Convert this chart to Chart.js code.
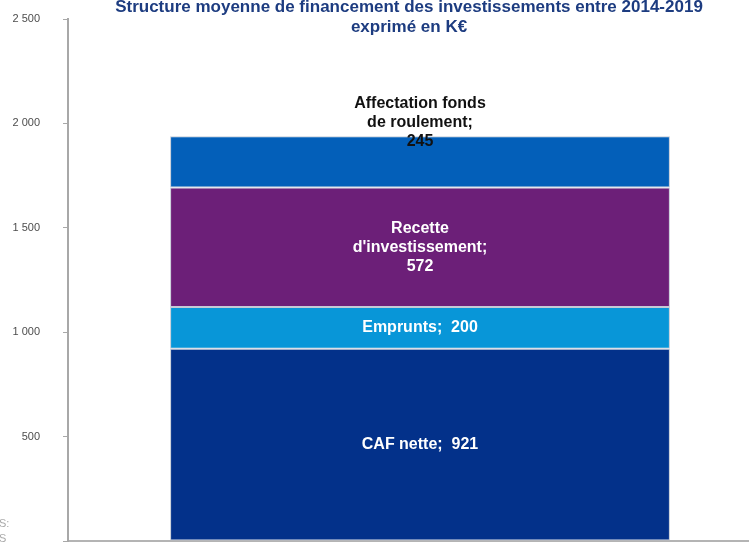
<!DOCTYPE html>
<html>
<head>
<meta charset="utf-8">
<script src="https://cdn.jsdelivr.net/npm/chart.js@4/dist/chart.umd.min.js"></script>
<style>
  html, body { margin: 0; padding: 0; background: #fff; overflow: hidden; }
  #wrap { position: relative; width: 772px; height: 544px; }
</style>
</head>
<body>
<div id="wrap"><canvas id="chart" width="772" height="544"></canvas></div>
<script>
// data
const categories = ['Financement'];
const seriesNames = ['CAF nette', 'Emprunts', "Recette d'investissement", 'Affectation fonds de roulement'];
const seriesValues = [921, 200, 572, 245];
const seriesColors = ['#03318a', '#0896d8', '#6c1f78', '#035fb9'];
const labelLines = [
  ['CAF nette;  921'],
  ['Emprunts;  200'],
  ['Recette', "d'investissement;", '572'],
  ['Affectation fonds', 'de roulement;', '245']
];
const labelColors = ['#ffffff', '#ffffff', '#ffffff', '#111111'];
const yTicks = [0, 500, 1000, 1500, 2000, 2500];
const titleLines = ['Structure moyenne de financement des investissements entre 2014-2019', 'exprimé en K€'];

const fmt = v => v === 0 ? '' : String(v).replace(/\B(?=(\d{3})+(?!\d))/g, ' ');

let segLabels = {
  id: 'segLabels',
  afterDatasetsDraw(chart) {
    let ctx = chart.ctx;
    ctx.save();
    ctx.font = 'bold 16px "Liberation Sans", Arial, sans-serif';
    ctx.textAlign = 'center';
    ctx.textBaseline = 'middle';
    chart.data.datasets.forEach((ds, i) => {
      let bar = chart.getDatasetMeta(i).data[0];
      let lines = labelLines[i];
      let lh = 19;
      let cy;
      if (i === 3) {
        // last one sits on top of the bar, spilling above it
        cy = bar.y - 14;
      } else {
        cy = (bar.y + bar.base) / 2;
      }
      ctx.fillStyle = labelColors[i];
      lines.forEach((t, k) => {
        ctx.fillText(t, bar.x, cy + (k - (lines.length - 1) / 2) * lh);
      });
    });
    ctx.restore();
  }
};

let titleDraw = {
  id: 'titleDraw',
  afterDraw(chart) {
    let ctx = chart.ctx;
    ctx.save();
    ctx.font = 'bold 17px "Liberation Sans", Arial, sans-serif';
    ctx.fillStyle = '#1d3c80';
    ctx.textAlign = 'center';
    ctx.textBaseline = 'middle';
    ctx.fillText(titleLines[0], 409, 7);
    ctx.fillText(titleLines[1], 409, 27);
    ctx.font = '11px "Liberation Sans", Arial, sans-serif';
    ctx.fillStyle = '#aaaaaa';
    ctx.textAlign = 'left';
    ctx.fillText('S:', -1, 524);
    ctx.fillText('S', -1, 539);
    ctx.restore();
  }
};

new Chart(document.getElementById('chart'), {
  type: 'bar',
  data: {
    labels: categories,
    datasets: seriesNames.map((name, i) => ({
      label: name,
      data: [seriesValues[i]],
      backgroundColor: seriesColors[i],
      borderColor: 'rgba(190,196,210,0.9)',
      borderWidth: 1,
      borderSkipped: false,
      categoryPercentage: 1,
      barPercentage: 0.71
    }))
  },
  options: {
    responsive: false,
    animation: false,
    layout: { padding: { top: 19, bottom: 3, left: 0, right: 0 } },
    plugins: {
      legend: { display: false },
      tooltip: { enabled: false }
    },
    scales: {
      x: {
        stacked: true,
        ticks: { display: false },
        grid: { display: false },
        border: { display: true, color: '#b4b4b4', width: 2 },
        afterFit: s => { s.height = 0; }
      },
      y: {
        stacked: true,
        min: 0,
        max: 2500,
        afterBuildTicks: s => { s.ticks = yTicks.map(v => ({ value: v })); },
        ticks: {
          padding: 23,
          color: '#4d4d4d',
          font: { size: 11, family: '"Liberation Sans", Arial, sans-serif' },
          callback: v => fmt(v)
        },
        grid: { drawOnChartArea: false, tickLength: 5, color: '#a8a8a8' },
        border: { display: true, color: '#a8a8a8', width: 2 },
        afterFit: s => { s.width = 68; s.paddingTop = 0; s.paddingBottom = 0; }
      }
    }
  },
  plugins: [segLabels, titleDraw]
});
</script>
</body>
</html>
